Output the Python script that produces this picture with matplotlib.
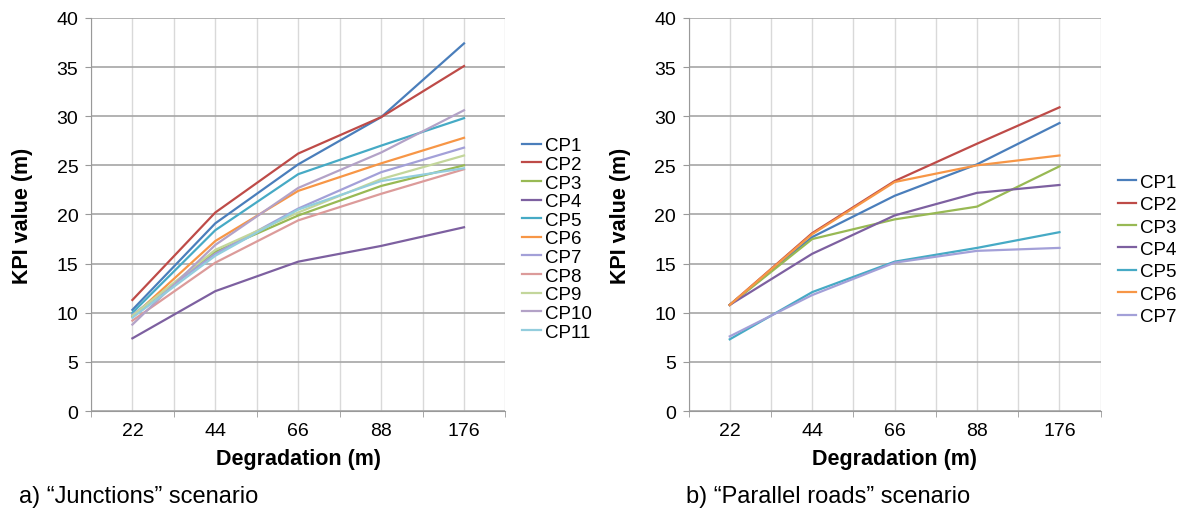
import matplotlib.pyplot as plt
import numpy as np

plt.rcParams['font.family'] = ['Liberation Sans', 'DejaVu Sans']

degradation = ["22", "44", "66", "88", "176"]

# a) Junctions scenario
junctions = {
    "CP1": [10.3, 19.1, 25.1, 29.9, 37.4],
    "CP2": [11.3, 20.2, 26.2, 29.9, 35.1],
    "CP3": [9.7, 16.2, 19.9, 22.9, 25.0],
    "CP4": [7.4, 12.2, 15.2, 16.8, 18.7],
    "CP5": [10.0, 18.4, 24.1, 27.0, 29.8],
    "CP6": [9.6, 17.3, 22.4, 25.2, 27.8],
    "CP7": [9.8, 16.0, 20.6, 24.3, 26.8],
    "CP8": [9.2, 15.1, 19.4, 22.1, 24.6],
    "CP9": [9.7, 16.4, 20.2, 23.6, 26.0],
    "CP10": [8.8, 16.9, 22.7, 26.3, 30.6],
    "CP11": [9.5, 15.8, 20.5, 23.4, 24.7],
}

# b) Parallel roads scenario
parallel = {
    "CP1": [10.8, 17.7, 21.9, 25.1, 29.3],
    "CP2": [10.8, 18.1, 23.4, 27.2, 30.9],
    "CP3": [10.8, 17.5, 19.5, 20.8, 24.9],
    "CP4": [10.8, 16.0, 19.9, 22.2, 23.0],
    "CP5": [7.3, 12.1, 15.2, 16.6, 18.2],
    "CP6": [10.8, 18.0, 23.3, 25.0, 26.0],
    "CP7": [7.6, 11.8, 15.1, 16.3, 16.6],
}

colors = ["#4a7ebb", "#be4b48", "#98b954", "#7d60a0", "#46aac5", "#f79646",
          "#a3a0d8", "#dc9b9a", "#c3d69b", "#b3a2c7", "#93cddd"]


def draw(ax, data, spacing, leg_y):
    x = np.arange(len(degradation))
    for i, (name, vals) in enumerate(data.items()):
        ax.plot(x, vals, color=colors[i], lw=1.6, label=name)
    ax.set_xlim(-0.5, len(degradation) - 0.5)
    ax.set_ylim(0, 40)
    ax.set_yticks(range(0, 41, 5))
    ax.set_xticks(x)
    ax.set_xticklabels(degradation)
    ax.set_xticks(np.arange(-0.5, len(degradation), 1), minor=True)
    ax.tick_params(axis='x', which='major', length=0, labelsize=14, pad=8)
    ax.tick_params(axis='x', which='minor', length=4, color="#999999", direction='out')
    ax.tick_params(axis='y', length=4, color="#999999", labelsize=14, pad=5)
    ax.grid(axis='y', color="#a6a6a6", lw=1.2)
    ax.grid(axis='x', which='both', color="#d9d9d9", lw=1)
    ax.set_axisbelow(True)
    for s in ["top", "right"]:
        ax.spines[s].set_visible(False)
    for s in ["left", "bottom"]:
        ax.spines[s].set_color("#999999")
    ax.set_xlabel("Degradation (m)", fontsize=15.5, fontweight='bold')
    ax.set_ylabel("KPI value (m)", fontsize=15.5, fontweight='bold')
    ax.xaxis.set_label_coords(0.5, -0.095)
    ax.yaxis.set_label_coords(-0.14, 0.5)
    ax.legend(loc='center left', bbox_to_anchor=(1.0, leg_y), frameon=False,
              fontsize=13.5, handlelength=1.0, handletextpad=0.2,
              labelspacing=spacing, borderaxespad=0.5)


fig = plt.figure(figsize=(11.81, 5.10), dpi=100)
ax1 = fig.add_axes([0.077, 0.192, 0.351, 0.771])
ax2 = fig.add_axes([0.583, 0.192, 0.349, 0.771])

draw(ax1, junctions, 0.08, 0.438)
draw(ax2, parallel, 0.28, 0.411)

fig.text(0.016, 0.025, "a) \u201cJunctions\u201d scenario", fontsize=17, va='center')
fig.text(0.581, 0.025, "b) \u201cParallel roads\u201d scenario", fontsize=17, va='center')

fig.savefig("out.png", dpi=100)
